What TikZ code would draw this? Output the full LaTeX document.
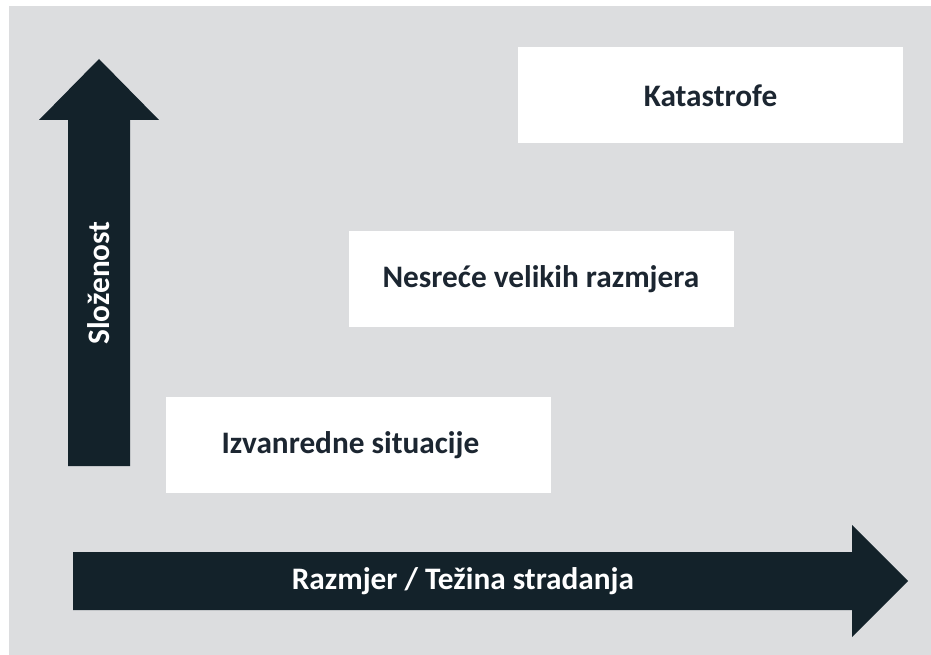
\documentclass[tikz,border=0pt]{standalone}
\usepackage{fontspec}
\setmainfont{Carlito}
\usetikzlibrary{calc}

\definecolor{pozadina}{HTML}{DCDDDF}
\definecolor{strelica}{HTML}{13222A}
\definecolor{tekst}{HTML}{1C2631}

\tikzset{
	kutija/.style={fill=white, minimum width=77mm, minimum height=19.2mm, inner sep=0pt,
		text=tekst, font=\fontsize{17.8}{21}\selectfont\bfseries},
	natpis/.style={text=tekst, inner sep=0pt, font=\fontsize{17.8}{21}\selectfont\bfseries},
	oznaka/.style={text=white, inner sep=0pt, font=\fontsize{17.8}{21}\selectfont\bfseries}
}

\begin{document}
\begin{tikzpicture}[x=0.2mm, y=-0.2mm]
		\useasboundingbox (0, 0) rectangle (931, 655);
		\fill[pozadina] (9, 6) rectangle (931, 655);
		% okomita strelica
		\fill[strelica] (68, 466) -- (68, 120) -- (39, 120) -- (99, 59) -- (159, 120) -- (130, 120) -- (130, 466) -- cycle;
		% vodoravna strelica
		\fill[strelica] (73, 552) -- (852, 552) -- (852, 525) -- (908, 581) -- (852, 637) -- (852, 610) -- (73, 610) -- cycle;
		\node[oznaka, rotate=90] (slozenost) at (99, 283) {Složenost};
		\node[oznaka] (razmjer) at (463, 581) {Razmjer / Težina stradanja};
		\node[kutija] (izvanredne) at (358.5, 445) {};
		\node[natpis] (izvanredneTekst) at ($(izvanredne)+(-8, 0)$) {Izvanredne situacije};
		\node[kutija] (nesrece) at (541, 279) {Nesreće velikih razmjera};
		\node[kutija] (katastrofe) at (710.5, 95.5) {Katastrofe};
	\end{tikzpicture}
\end{document}
